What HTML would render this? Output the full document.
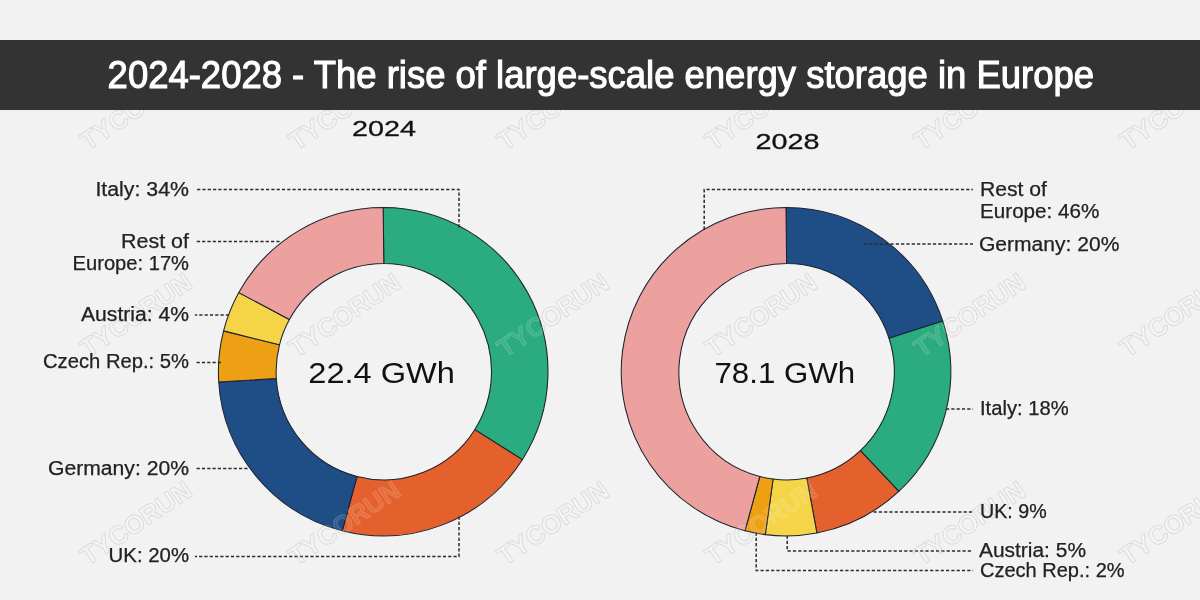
<!DOCTYPE html>
<html lang="en">
<head>
<meta charset="utf-8">
<title>2024-2028 - The rise of large-scale energy storage in Europe</title>
<style>
html,body{margin:0;padding:0;}
body{width:1200px;height:600px;overflow:hidden;background:#f2f2f2;position:relative;font-family:"Liberation Sans",sans-serif;}
.band{position:absolute;left:0;top:40px;width:1200px;height:70px;background:#333333;}
.title{position:absolute;left:0;top:39.5px;width:1200px;height:70px;line-height:70px;text-align:center;color:#fff;font-size:38px;font-weight:400;white-space:nowrap;margin:0;}
.title span{display:inline-block;transform:translateX(0.8px) scaleX(0.9595);-webkit-text-stroke:1.1px #fff;transform-origin:50% 50%;}
svg{position:absolute;left:0;top:0;}
.wm text{font-family:"Liberation Sans",sans-serif;font-weight:bold;font-size:26px;fill:#ffffff;fill-opacity:0.28;stroke:#cccccc;stroke-opacity:0.75;stroke-width:1;}
.wm.top text{fill-opacity:0.09;stroke:#ffffff;stroke-opacity:0.16;}
.lb text{font-family:"Liberation Sans",sans-serif;font-size:19.5px;fill:#222;stroke:#222;stroke-width:0.25;}
.yr{font-family:"Liberation Sans",sans-serif;font-size:22.9px;fill:#111;stroke:#111;stroke-width:0.3;}
.big{font-family:"Liberation Sans",sans-serif;font-size:30.3px;fill:#111;}
.dl path{fill:none;stroke:#2b2b2b;stroke-width:1.5;stroke-dasharray:3.2 2.1;}
.dn path{stroke:#1b2230;stroke-width:1.05;stroke-linejoin:round;}
</style>
</head>
<body>
<svg width="1200" height="600" viewBox="0 0 1200 600">
<g class="wm">
<text x="136" y="117" transform="rotate(-34 136 108)" text-anchor="middle" textLength="128" lengthAdjust="spacingAndGlyphs">TYCORUN</text>
<text x="344.5" y="117" transform="rotate(-34 344.5 108)" text-anchor="middle" textLength="128" lengthAdjust="spacingAndGlyphs">TYCORUN</text>
<text x="553" y="117" transform="rotate(-34 553 108)" text-anchor="middle" textLength="128" lengthAdjust="spacingAndGlyphs">TYCORUN</text>
<text x="761" y="117" transform="rotate(-34 761 108)" text-anchor="middle" textLength="128" lengthAdjust="spacingAndGlyphs">TYCORUN</text>
<text x="969.5" y="117" transform="rotate(-34 969.5 108)" text-anchor="middle" textLength="128" lengthAdjust="spacingAndGlyphs">TYCORUN</text>
<text x="1175.5" y="117" transform="rotate(-34 1175.5 108)" text-anchor="middle" textLength="128" lengthAdjust="spacingAndGlyphs">TYCORUN</text>
<text x="136" y="324" transform="rotate(-34 136 315)" text-anchor="middle" textLength="128" lengthAdjust="spacingAndGlyphs">TYCORUN</text>
<text x="344.5" y="324" transform="rotate(-34 344.5 315)" text-anchor="middle" textLength="128" lengthAdjust="spacingAndGlyphs">TYCORUN</text>
<text x="553" y="324" transform="rotate(-34 553 315)" text-anchor="middle" textLength="128" lengthAdjust="spacingAndGlyphs">TYCORUN</text>
<text x="761" y="324" transform="rotate(-34 761 315)" text-anchor="middle" textLength="128" lengthAdjust="spacingAndGlyphs">TYCORUN</text>
<text x="969.5" y="324" transform="rotate(-34 969.5 315)" text-anchor="middle" textLength="128" lengthAdjust="spacingAndGlyphs">TYCORUN</text>
<text x="1175.5" y="324" transform="rotate(-34 1175.5 315)" text-anchor="middle" textLength="128" lengthAdjust="spacingAndGlyphs">TYCORUN</text>
<text x="136" y="532" transform="rotate(-34 136 523)" text-anchor="middle" textLength="128" lengthAdjust="spacingAndGlyphs">TYCORUN</text>
<text x="344.5" y="532" transform="rotate(-34 344.5 523)" text-anchor="middle" textLength="128" lengthAdjust="spacingAndGlyphs">TYCORUN</text>
<text x="553" y="532" transform="rotate(-34 553 523)" text-anchor="middle" textLength="128" lengthAdjust="spacingAndGlyphs">TYCORUN</text>
<text x="761" y="532" transform="rotate(-34 761 523)" text-anchor="middle" textLength="128" lengthAdjust="spacingAndGlyphs">TYCORUN</text>
<text x="969.5" y="532" transform="rotate(-34 969.5 523)" text-anchor="middle" textLength="128" lengthAdjust="spacingAndGlyphs">TYCORUN</text>
<text x="1175.5" y="532" transform="rotate(-34 1175.5 523)" text-anchor="middle" textLength="128" lengthAdjust="spacingAndGlyphs">TYCORUN</text>
</g>
<g class="dn">
<path d="M383.20 207.50A164.8 164.2 0 0 1 522.35 459.68L474.73 429.68A107.7 108.2 0 0 0 383.80 263.50Z" fill="#2aab80"/>
<path d="M522.35 459.68A164.8 164.2 0 0 1 342.22 530.74L357.02 476.50A107.7 108.2 0 0 0 474.73 429.68Z" fill="#e4602c"/>
<path d="M342.22 530.74A164.8 164.2 0 0 1 218.73 382.01L276.31 378.49A107.7 108.2 0 0 0 357.02 476.50Z" fill="#1f4e87"/>
<path d="M218.73 382.01A164.8 164.2 0 0 1 223.58 330.87L279.48 344.79A107.7 108.2 0 0 0 276.31 378.49Z" fill="#eea014"/>
<path d="M223.58 330.87A164.8 164.2 0 0 1 238.78 292.60L289.42 319.57A107.7 108.2 0 0 0 279.48 344.79Z" fill="#f5d547"/>
<path d="M238.78 292.60A164.8 164.2 0 0 1 383.20 207.50L383.80 263.50A107.7 108.2 0 0 0 289.42 319.57Z" fill="#eca19e"/>
<path d="M786.00 207.50A164.8 164.2 0 0 1 942.73 320.96L889.03 338.26A107.7 108.2 0 0 0 786.60 263.50Z" fill="#1f4e87"/>
<path d="M942.73 320.96A164.8 164.2 0 0 1 898.81 491.40L860.33 450.57A107.7 108.2 0 0 0 889.03 338.26Z" fill="#2aab80"/>
<path d="M898.81 491.40A164.8 164.2 0 0 1 816.88 532.99L806.78 477.98A107.7 108.2 0 0 0 860.33 450.57Z" fill="#e4602c"/>
<path d="M816.88 532.99A164.8 164.2 0 0 1 765.35 534.61L773.10 479.05A107.7 108.2 0 0 0 806.78 477.98Z" fill="#f5d547"/>
<path d="M765.35 534.61A164.8 164.2 0 0 1 745.02 530.74L759.82 476.50A107.7 108.2 0 0 0 773.10 479.05Z" fill="#eea014"/>
<path d="M745.02 530.74A164.8 164.2 0 0 1 786.00 207.50L786.60 263.50A107.7 108.2 0 0 0 759.82 476.50Z" fill="#eca19e"/>
</g>
<g class="dl">
<path d="M459 227.5V189.4H195"/>
<path d="M279.5 241.6H195"/>
<path d="M229 315H195"/>
<path d="M221 362.4H195"/>
<path d="M247.5 468.6H195"/>
<path d="M459 516.5V556.6H195"/>
<path d="M704.2 229.5V189.4H973"/>
<path d="M864 244H973"/>
<path d="M946 409H973"/>
<path d="M873.5 512H973"/>
<path d="M787.2 535.5V551H973"/>
<path d="M756.2 532.5V570.6H973"/>
</g>
<g class="wm top">
<text x="136" y="117" transform="rotate(-34 136 108)" text-anchor="middle" textLength="128" lengthAdjust="spacingAndGlyphs">TYCORUN</text>
<text x="344.5" y="117" transform="rotate(-34 344.5 108)" text-anchor="middle" textLength="128" lengthAdjust="spacingAndGlyphs">TYCORUN</text>
<text x="553" y="117" transform="rotate(-34 553 108)" text-anchor="middle" textLength="128" lengthAdjust="spacingAndGlyphs">TYCORUN</text>
<text x="761" y="117" transform="rotate(-34 761 108)" text-anchor="middle" textLength="128" lengthAdjust="spacingAndGlyphs">TYCORUN</text>
<text x="969.5" y="117" transform="rotate(-34 969.5 108)" text-anchor="middle" textLength="128" lengthAdjust="spacingAndGlyphs">TYCORUN</text>
<text x="1175.5" y="117" transform="rotate(-34 1175.5 108)" text-anchor="middle" textLength="128" lengthAdjust="spacingAndGlyphs">TYCORUN</text>
<text x="136" y="324" transform="rotate(-34 136 315)" text-anchor="middle" textLength="128" lengthAdjust="spacingAndGlyphs">TYCORUN</text>
<text x="344.5" y="324" transform="rotate(-34 344.5 315)" text-anchor="middle" textLength="128" lengthAdjust="spacingAndGlyphs">TYCORUN</text>
<text x="553" y="324" transform="rotate(-34 553 315)" text-anchor="middle" textLength="128" lengthAdjust="spacingAndGlyphs">TYCORUN</text>
<text x="761" y="324" transform="rotate(-34 761 315)" text-anchor="middle" textLength="128" lengthAdjust="spacingAndGlyphs">TYCORUN</text>
<text x="969.5" y="324" transform="rotate(-34 969.5 315)" text-anchor="middle" textLength="128" lengthAdjust="spacingAndGlyphs">TYCORUN</text>
<text x="1175.5" y="324" transform="rotate(-34 1175.5 315)" text-anchor="middle" textLength="128" lengthAdjust="spacingAndGlyphs">TYCORUN</text>
<text x="136" y="532" transform="rotate(-34 136 523)" text-anchor="middle" textLength="128" lengthAdjust="spacingAndGlyphs">TYCORUN</text>
<text x="344.5" y="532" transform="rotate(-34 344.5 523)" text-anchor="middle" textLength="128" lengthAdjust="spacingAndGlyphs">TYCORUN</text>
<text x="553" y="532" transform="rotate(-34 553 523)" text-anchor="middle" textLength="128" lengthAdjust="spacingAndGlyphs">TYCORUN</text>
<text x="761" y="532" transform="rotate(-34 761 523)" text-anchor="middle" textLength="128" lengthAdjust="spacingAndGlyphs">TYCORUN</text>
<text x="969.5" y="532" transform="rotate(-34 969.5 523)" text-anchor="middle" textLength="128" lengthAdjust="spacingAndGlyphs">TYCORUN</text>
<text x="1175.5" y="532" transform="rotate(-34 1175.5 523)" text-anchor="middle" textLength="128" lengthAdjust="spacingAndGlyphs">TYCORUN</text>
</g>
<text x="352" y="135.9" textLength="64" lengthAdjust="spacingAndGlyphs" class="yr">2024</text>
<text x="755.6" y="149.1" textLength="64" lengthAdjust="spacingAndGlyphs" class="yr">2028</text>
<text x="308.3" y="383" textLength="146.6" lengthAdjust="spacingAndGlyphs" class="big">22.4 GWh</text>
<text x="714.5" y="383.2" textLength="140.6" lengthAdjust="spacingAndGlyphs" class="big">78.1 GWh</text>
<g class="lb">
<text x="95.4" y="196" textLength="93.6" lengthAdjust="spacingAndGlyphs">Italy: 34%</text>
<text x="121.0" y="247.6" textLength="68.0" lengthAdjust="spacingAndGlyphs">Rest of</text>
<text x="72.6" y="270.4" textLength="116.4" lengthAdjust="spacingAndGlyphs">Europe: 17%</text>
<text x="81.0" y="321" textLength="108.0" lengthAdjust="spacingAndGlyphs">Austria: 4%</text>
<text x="43.0" y="368" textLength="146.0" lengthAdjust="spacingAndGlyphs">Czech Rep.: 5%</text>
<text x="48.0" y="475" textLength="141.0" lengthAdjust="spacingAndGlyphs">Germany: 20%</text>
<text x="108.6" y="562.4" textLength="80.4" lengthAdjust="spacingAndGlyphs">UK: 20%</text>
<text x="980.0" y="195.6" textLength="67.0" lengthAdjust="spacingAndGlyphs">Rest of</text>
<text x="980.0" y="218" textLength="119.4" lengthAdjust="spacingAndGlyphs">Europe: 46%</text>
<text x="979.0" y="251" textLength="140.4" lengthAdjust="spacingAndGlyphs">Germany: 20%</text>
<text x="980.0" y="415.4" textLength="88.6" lengthAdjust="spacingAndGlyphs">Italy: 18%</text>
<text x="980.0" y="518" textLength="66.6" lengthAdjust="spacingAndGlyphs">UK: 9%</text>
<text x="979.0" y="557" textLength="107.0" lengthAdjust="spacingAndGlyphs">Austria: 5%</text>
<text x="980.0" y="576.8" textLength="144.6" lengthAdjust="spacingAndGlyphs">Czech Rep.: 2%</text>
</g>
</svg>
<div class="band"></div>
<h1 class="title"><span>2024-2028 - The rise of large-scale energy storage in Europe</span></h1>
</body>
</html>
